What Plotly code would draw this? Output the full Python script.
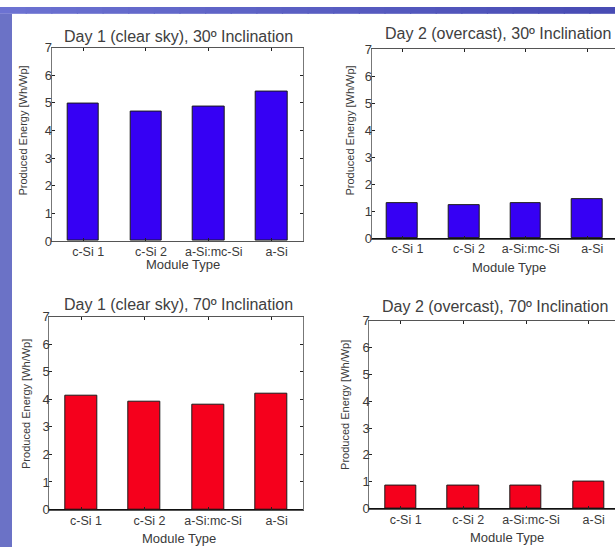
import plotly.graph_objects as go

# Module types and normalised daily energy yield [Wh/Wp]
modules = ["c-Si 1", "c-Si 2", "a-Si:mc-Si", "a-Si"]
day1_30 = [4.98, 4.69, 4.86, 5.39]
day2_30 = [1.30, 1.23, 1.30, 1.47]
day1_70 = [4.15, 3.90, 3.81, 4.21]
day2_70 = [0.87, 0.87, 0.84, 1.02]

titles = [
    "Day 1 (clear sky), 30º Inclination",
    "Day 2 (overcast), 30º Inclination",
    "Day 1 (clear sky), 70º Inclination",
    "Day 2 (overcast), 70º Inclination",
]
y_tick_labels = ["0", "1", "2", "3", "4", "5", "6", "7"]

W, H = 615, 555
BLUE = "#3600f4"
RED = "#f5001c"
FONT = "Liberation Sans, Arial, sans-serif"
TXT = "#3a3a3a"


def px(x):
    return x / W


def py(y):
    return 1 - y / H


# panel layout in pixels: (left, right, top, bottom, x-range end)
panels = [
    dict(data=day1_30, color=BLUE, l=51.7, r=303, t=41.7, b=240.5, xend=4.5, mirror_y=True,
         xstand=-1, title=(178, 30.5), ytitle=(23.5, 127.5), xtitle=(183, 265)),
    dict(data=day2_30, color=BLUE, l=371.7, r=615, t=43.3, b=238, xend=4.45, mirror_y=False,
         xstand=-2, title=(498, 27.5), ytitle=(350, 127), xtitle=(509, 267.5)),
    dict(data=day1_70, color=RED, l=49.3, r=303.3, t=318.3, b=516.5, xend=4.5, mirror_y=True,
         xstand=-1, title=(178, 305.5), ytitle=(26, 408), xtitle=(178.5, 546.5)),
    dict(data=day2_70, color=RED, l=369.3, r=615, t=322.3, b=515.5, xend=4.42, mirror_y=False,
         xstand=-1, title=(495, 307.5), ytitle=(345, 409), xtitle=(507, 545.5)),
]

fig = go.Figure()
layout = dict(
    width=W, height=H,
    margin=dict(l=0, r=0, t=0, b=0),
    paper_bgcolor="white", plot_bgcolor="white",
    showlegend=False,
    font=dict(family=FONT, color=TXT, size=11),
    bargap=0,
)
annotations = []
shapes = []

# slide background strips (top and left) with a stepped gradient
n_steps = 24
for i in range(n_steps):
    f = i / (n_steps - 1)
    r = int(0x6c + (0x48 - 0x6c) * f)
    g = int(0x72 + (0x4c - 0x72) * f)
    b = int(0xd2 + (0xb4 - 0xd2) * f)
    shapes.append(dict(type="rect", xref="paper", yref="paper",
                       x0=i / n_steps, x1=(i + 1) / n_steps + 0.002,
                       y0=py(7), y1=1, fillcolor=f"rgb({r},{g},{b})",
                       line=dict(width=0), layer="below"))
shapes.append(dict(type="rect", xref="paper", yref="paper",
                   x0=0, x1=px(12), y0=0, y1=py(7),
                   fillcolor="#6b72c6", line=dict(width=0), layer="below"))

for k, p in enumerate(panels):
    ax = "" if k == 0 else str(k + 1)
    xs = [1, 2, 3, 4]
    fig.add_trace(go.Bar(
        x=xs, y=p["data"], width=0.5,
        marker=dict(color=p["color"], line=dict(color="#1a1a1a", width=1)),
        xaxis="x" + ax, yaxis="y" + ax, hoverinfo="skip",
    ))
    layout["xaxis" + ax] = dict(
        domain=[px(p["l"]), px(p["r"])], range=[0.5, p["xend"]],
        anchor="y" + ax, tickvals=xs, ticktext=modules,
        ticks="inside", ticklen=3, tickcolor="#222",
        showline=True, linecolor="#555", linewidth=1, mirror="ticks",
        showgrid=False, zeroline=False, fixedrange=True,
        ticklabelstandoff=p["xstand"], ticklabelshift=5,
        tickfont=dict(size=12.5, color=TXT, family=FONT),
    )
    layout["yaxis" + ax] = dict(
        domain=[py(p["b"]), py(p["t"])], range=[0, 7],
        anchor="x" + ax, tickvals=list(range(8)), ticktext=y_tick_labels,
        ticks="inside", ticklen=3, tickcolor="#222",
        showline=True, linecolor="#777", linewidth=1,
        mirror="ticks" if p["mirror_y"] else False,
        showgrid=False, zeroline=True, zerolinecolor="#111", zerolinewidth=1,
        fixedrange=True, ticklabelstandoff=-4,
        tickfont=dict(size=13, color=TXT, family=FONT),
    )
    annotations.append(dict(text=titles[k], x=px(p["title"][0]), y=py(p["title"][1]),
                            xref="paper", yref="paper", showarrow=False,
                            xanchor="center", yanchor="middle",
                            font=dict(size=16, color="#404040", family=FONT)))
    annotations.append(dict(text="Produced Energy [Wh/Wp]", x=px(p["ytitle"][0]),
                            y=py(p["ytitle"][1]), xref="paper", yref="paper",
                            showarrow=False, textangle=-90,
                            xanchor="center", yanchor="middle",
                            font=dict(size=11, color=TXT, family=FONT)))
    annotations.append(dict(text="Module Type", x=px(p["xtitle"][0]), y=py(p["xtitle"][1]),
                            xref="paper", yref="paper", showarrow=False,
                            xanchor="center", yanchor="middle",
                            font=dict(size=13, color=TXT, family=FONT)))

layout["annotations"] = annotations
layout["shapes"] = shapes
fig.update_layout(**layout)
fig.write_html("out.html")
